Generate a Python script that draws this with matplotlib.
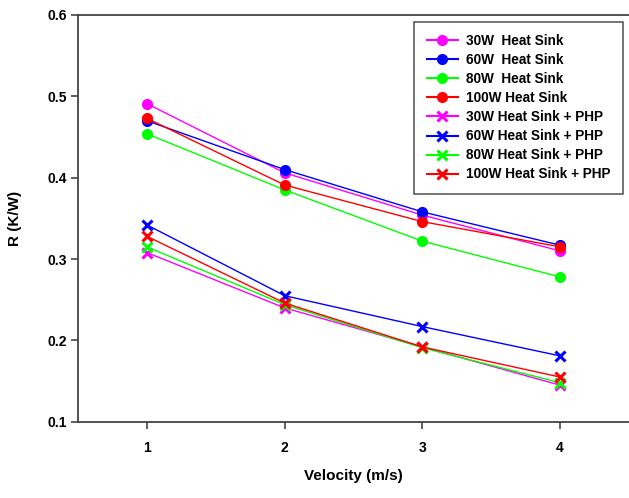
import matplotlib
matplotlib.use("Agg")
import matplotlib.pyplot as plt

plt.rcParams['font.family'] = ['Liberation Sans', 'DejaVu Sans']
plt.rcParams['font.weight'] = 'bold'

velocity = [1, 2, 3, 4]

# heat sink only
hs_30 = [0.491, 0.406, 0.354, 0.310]
hs_60 = [0.470, 0.410, 0.358, 0.317]
hs_80 = [0.454, 0.385, 0.322, 0.278]
hs_100 = [0.473, 0.391, 0.346, 0.315]

# heat sink + PHP
php_30 = [0.308, 0.240, 0.192, 0.145]
php_60 = [0.342, 0.255, 0.217, 0.181]
php_80 = [0.315, 0.244, 0.191, 0.148]
php_100 = [0.328, 0.246, 0.192, 0.155]

colors = ['#FF00FF', '#0000FF', '#00FF00', '#FF0000']

fig = plt.figure(figsize=(6.29, 4.98), dpi=100)
ax = fig.add_axes([0.124, 0.153, 0.876, 0.817])

hs = [hs_30, hs_60, hs_80, hs_100]
hs_labels = ['30W  Heat Sink', '60W  Heat Sink', '80W  Heat Sink', '100W Heat Sink']
for vals, c, lab in zip(hs, colors, hs_labels):
    ax.plot(velocity, vals, color=c, lw=1, marker='o', ms=7, label=lab)

php = [php_30, php_60, php_80, php_100]
php_labels = ['30W Heat Sink + PHP', '60W Heat Sink + PHP',
              '80W Heat Sink + PHP', '100W Heat Sink + PHP']
for vals, c, lab in zip(php, colors, php_labels):
    ax.plot(velocity, vals, color=c, lw=1, marker='x', ms=7, mew=2.2, label=lab)

ax.set_xlim(0.5, 4.5)
ax.set_ylim(0.1, 0.6)
ax.set_xticks(velocity)
ax.set_yticks([0.1, 0.2, 0.3, 0.4, 0.5, 0.6])
ax.set_yticklabels(['0.1', '0.2', '0.3', '0.4', '0.5', '0.6'])

for side in ['left', 'bottom', 'top']:
    ax.spines[side].set_color('#444444')
    ax.spines[side].set_linewidth(1.3)
ax.spines['right'].set_visible(False)
ax.tick_params(direction='out', length=5, width=1.2, color='#444444',
               labelsize=10, pad=9)
ax.tick_params(axis='y', pad=3)

ax.set_xlabel('Velocity (m/s)', fontsize=11, fontweight='bold', labelpad=10)
ax.set_ylabel('R (K/W)', fontsize=11, fontweight='bold', labelpad=18)

leg = ax.legend(loc='upper right', bbox_to_anchor=(0.989, 0.983),
                fontsize=9.8, frameon=True, fancybox=False, edgecolor='#333333',
                handlelength=2.3, labelspacing=0.37, borderpad=0.9,
                handletextpad=0.6, borderaxespad=0, markerscale=1.0)
leg.get_frame().set_linewidth(1.2)
for t in leg.get_texts():
    t.set_fontweight('bold')
for h in leg.get_lines():
    h.set_linewidth(1.5)

fig.savefig('out.png', dpi=100)
